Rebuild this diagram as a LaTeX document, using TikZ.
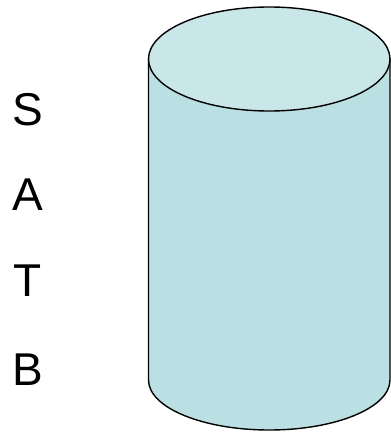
\documentclass[tikz,border=0pt]{standalone}
\usepackage{fontspec}
\setmainfont{Liberation Sans}
\definecolor{side}{HTML}{BBE0E3}
\definecolor{topc}{HTML}{C9E6E9}
\begin{document}
\begin{tikzpicture}[x=1pt,y=1pt,
  letter/.style={font=\fontsize{46}{46}\selectfont, anchor=center, inner sep=0pt},
  edge/.style={draw=black, line width=1.4pt}]
\useasboundingbox (0,0) rectangle (391,432);
\fill[white] (0,0) rectangle (391,432);
% cylinder body
\path[edge, fill=side] (148.5,373) -- (148.5,52) arc[start angle=180, end angle=360, x radius=120.75, y radius=50] -- (390,373) -- cycle;
\path[edge, fill=topc] (269.25,373) ellipse[x radius=120.75, y radius=52];
\node[letter] (S) at (28,322) {S};
\node[letter] (A) at (28,237) {A};
\node[letter] (T) at (28,151) {T};
\node[letter] (B) at (28,62) {B};
\end{tikzpicture}
\end{document}
